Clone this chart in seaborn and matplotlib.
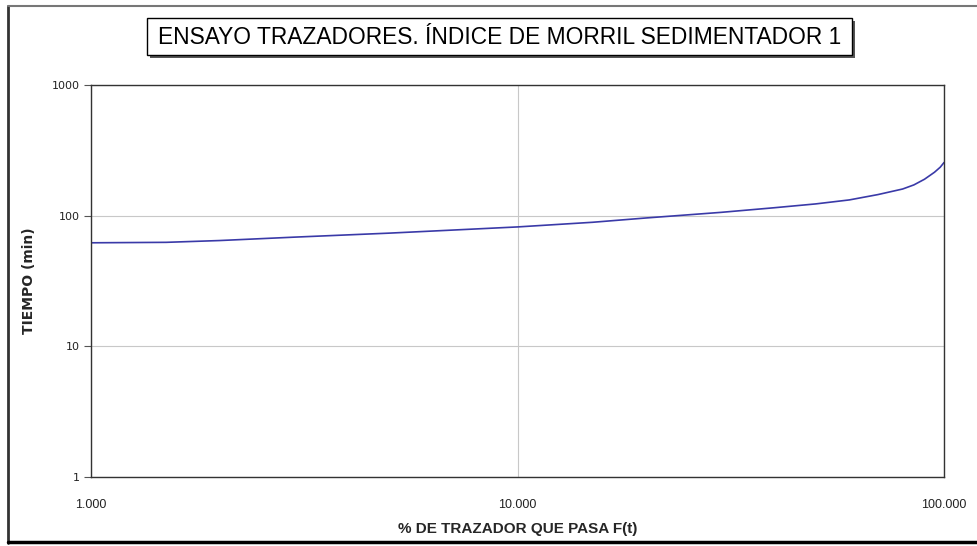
import matplotlib
matplotlib.use("Agg")
import matplotlib.pyplot as plt
import matplotlib.ticker as mticker
from matplotlib.patches import Rectangle
from matplotlib.lines import Line2D
import seaborn as sns
import pandas as pd

pct_tracer = [1, 1.5, 2, 3, 5, 7, 10, 15, 20, 30, 40, 50, 60, 70, 80, 85, 90, 95, 98, 100]
time_min = [62, 62.5, 64.5, 68.5, 73.5, 77.5, 82, 89, 96, 106, 115, 123, 132, 145, 160, 172, 190, 215, 235, 255]
x_ticks = [1, 10, 100]
x_tick_labels = ["1.000", "10.000", "100.000"]
y_ticks = [1, 10, 100, 1000]
y_tick_labels = ["1", "10", "100", "1000"]

sns.set_theme(style="white")
plt.rcParams['font.family'] = ['Liberation Sans Narrow', 'Liberation Sans', 'DejaVu Sans']

df = pd.DataFrame({"pct": pct_tracer, "t": time_min})

fig = plt.figure(figsize=(9.77, 5.46), dpi=100)
ax = fig.add_axes([91/977, 1-477/546, (944-91)/977, (477-85)/546])
sns.lineplot(data=df, x="pct", y="t", ax=ax, color="#3a3aa8", linewidth=1.2)
ax.set_xscale("log")
ax.set_yscale("log")
ax.set_xlim(1, 100)
ax.set_ylim(1, 1000)
ax.xaxis.set_major_locator(mticker.FixedLocator(x_ticks))
ax.xaxis.set_major_formatter(mticker.FixedFormatter(x_tick_labels))
ax.xaxis.set_minor_locator(mticker.NullLocator())
ax.yaxis.set_major_locator(mticker.FixedLocator(y_ticks))
ax.yaxis.set_major_formatter(mticker.FixedFormatter(y_tick_labels))
ax.yaxis.set_minor_locator(mticker.NullLocator())
ax.grid(True, which="major", color="#c8c8c8", linewidth=0.8)
for s in ax.spines.values():
    s.set_color("#333333")
    s.set_linewidth(1.0)
ax.tick_params(axis="y", which="major", left=True, length=5, width=0.8, color="#555555",
               labelsize=9, pad=3, labelcolor="#222222")
ax.tick_params(axis="x", which="major", bottom=False, labelsize=9, pad=10, labelcolor="#222222")
for lab in ax.get_yticklabels():
    lab.set_family(['DejaVu Sans'])
    lab.set_fontsize(8)
ax.set_xlabel("% DE TRAZADOR QUE PASA F(t)", fontsize=11, fontweight="bold", labelpad=6)
ax.set_ylabel("TIEMPO (min)", fontsize=10, fontweight="bold", family=['DejaVu Sans'], labelpad=12)
ax.xaxis.set_label_coords(0.5, -0.115)
ax.yaxis.set_label_coords(-0.065, 0.5)

# title box with shadow
fig.patches.append(Rectangle((150/977, 1-58/546), (855-150)/977, (58-21)/546,
                             transform=fig.transFigure, facecolor="#555555", edgecolor="none", zorder=1))
fig.patches.append(Rectangle((147/977, 1-55/546), (852-147)/977, (55-18)/546,
                             transform=fig.transFigure, facecolor="white", edgecolor="black",
                             linewidth=1.0, zorder=2))
fig.text(499.5/977, 1-37/546, "ENSAYO TRAZADORES. ÍNDICE DE MORRIL SEDIMENTADOR 1",
         ha="center", va="center", fontsize=16.4, color="black", zorder=3)

# figure border (left, top, bottom only; right edge is outside the picture)
fig.lines.append(Line2D([8/977, 8/977], [1-543/546, 1-6/546], transform=fig.transFigure,
                        color="#333333", linewidth=2.0))
fig.lines.append(Line2D([8/977, 1.0], [1-6/546, 1-6/546], transform=fig.transFigure,
                        color="#777777", linewidth=1.5))
fig.lines.append(Line2D([8/977, 1.0], [1-542/546, 1-542/546], transform=fig.transFigure,
                        color="black", linewidth=2.5))

fig.savefig("out.png", dpi=100)
